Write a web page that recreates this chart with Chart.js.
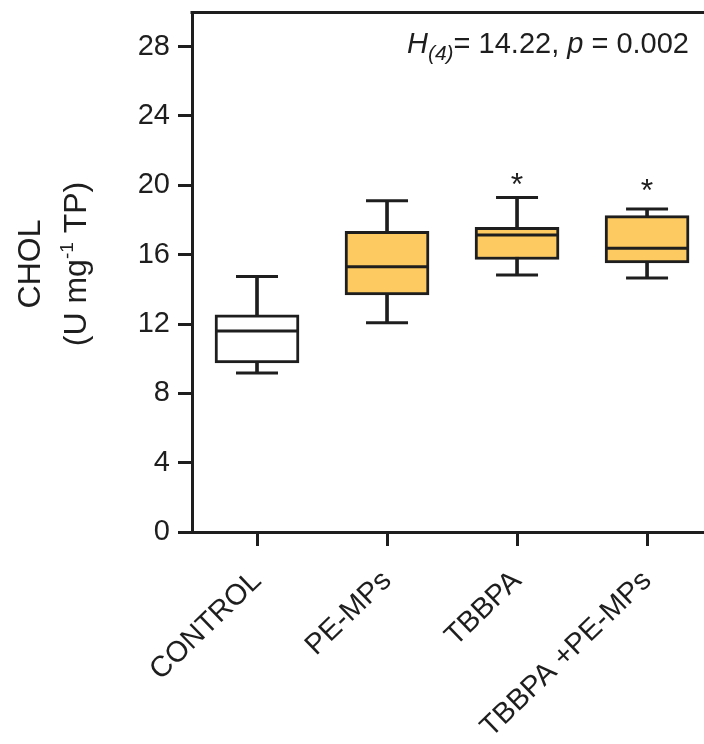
<!DOCTYPE html>
<html><head><meta charset="utf-8">
<script src="https://cdn.jsdelivr.net/npm/chart.js@4"></script>
<style>html,body{margin:0;padding:0;background:#fff;overflow:hidden}#wrap{width:704px;height:744px;position:relative}canvas{display:block}</style>
</head><body><div id="wrap"><canvas id="c" width="704" height="744" style="width:704px;height:744px"></canvas></div>
<script>
// ---- data ----
const categories = ['CONTROL', 'PE-MPs', 'TBBPA', 'TBBPA +PE-MPs'];
const whiskerLow  = [9.17, 12.07, 14.83, 14.66];
const q1          = [9.75, 13.68, 15.72, 15.53];
const medians     = [11.59, 15.31, 17.14, 16.37];
const q3          = [12.53, 17.35, 17.58, 18.25];
const whiskerHigh = [14.74, 19.11, 19.30, 18.63];
const sigMarks    = ['', '', '*', '*'];
const sigY        = [null, null, 20.48, 20.15];
const yTicks      = [0, 4, 8, 12, 16, 20, 24, 28];
const yTitleLine1 = 'CHOL';
const yTitleLine2 = ['(U mg', '-1', ' TP)'];
const statText    = {H: 'H', df: '(4)', Hval: '= 14.22, ', p: 'p', pval: ' = 0.002'};

// ---- styles ----
const INK = '#1e1e1e';
const FONT = "'Liberation Sans', Arial, sans-serif";
const boxFill = ['#ffffff', '#fcca60', '#fcca60', '#fcca60'];

const idx = categories.map((_, i) => i);

function measureParts(ctx, parts) {
  let total = 0;
  parts.forEach(p => { ctx.font = p.f; p.w = ctx.measureText(p.t).width; total += p.w; });
  return total;
}

const overlay = {
  id: 'overlay',
  afterDatasetsDraw(chart) {
    const {ctx, chartArea, scales: {x, y}} = chart;
    ctx.save();
    // top frame line
    ctx.strokeStyle = INK; ctx.lineWidth = 3;
    ctx.beginPath();
    ctx.moveTo(chartArea.left - 1.5, chartArea.top + 0.5);
    ctx.lineTo(chartArea.right + 2, chartArea.top + 0.5);
    ctx.stroke();
    // significance marks
    ctx.fillStyle = INK;
    ctx.font = '32px ' + FONT;
    ctx.textAlign = 'center';
    ctx.textBaseline = 'alphabetic';
    idx.forEach(i => {
      if (!sigMarks[i]) return;
      ctx.fillText(sigMarks[i], x.getPixelForValue(i), y.getPixelForValue(sigY[i]) + 18);
    });
    // statistic annotation
    const parts = [
      {t: statText.H, f: 'italic 29px ' + FONT, dy: 0},
      {t: statText.df, f: 'italic 21px ' + FONT, dy: 7},
      {t: statText.Hval, f: '29px ' + FONT, dy: 0},
      {t: statText.p, f: 'italic 29px ' + FONT, dy: 0},
      {t: statText.pval, f: '29px ' + FONT, dy: 0}
    ];
    const total = measureParts(ctx, parts);
    let cx = 689 - total;
    ctx.textAlign = 'left';
    parts.forEach(p => { ctx.font = p.f; ctx.fillText(p.t, cx, 53 + p.dy); cx += p.w; });
    // y-axis title (rotated, two lines)
    const midY = 264;
    ctx.save();
    ctx.translate(40, midY);
    ctx.rotate(-Math.PI / 2);
    ctx.font = '32px ' + FONT;
    ctx.textAlign = 'center';
    ctx.fillText(yTitleLine1, 0, 0);
    ctx.restore();
    const l2 = [
      {t: yTitleLine2[0], f: '32px ' + FONT, dy: 0},
      {t: yTitleLine2[1], f: '19px ' + FONT, dy: -13},
      {t: yTitleLine2[2], f: '32px ' + FONT, dy: 0}
    ];
    const w2 = measureParts(ctx, l2);
    ctx.save();
    ctx.translate(86, midY);
    ctx.rotate(-Math.PI / 2);
    ctx.textAlign = 'left';
    let px = -w2 / 2;
    l2.forEach(p => { ctx.font = p.f; ctx.fillText(p.t, px, p.dy); px += p.w; });
    ctx.restore();
    ctx.restore();
  }
};

new Chart(document.getElementById('c'), {
  type: 'bar',
  data: {
    datasets: [
      {
        label: 'whisker', order: 4, grouped: false,
        data: idx.map(i => ({x: i, y: [whiskerLow[i], whiskerHigh[i]]})),
        backgroundColor: INK, borderWidth: 0, barThickness: 3
      },
      {
        label: 'box', order: 3, grouped: false,
        data: idx.map(i => ({x: i, y: [q1[i], q3[i]]})),
        backgroundColor: boxFill, borderColor: INK, borderWidth: 3,
        borderSkipped: false, barThickness: 84
      },
      {
        type: 'line', label: 'caps', order: 2, showLine: false,
        data: idx.map(i => ({x: i, y: whiskerHigh[i]})).concat(idx.map(i => ({x: i, y: whiskerLow[i]}))),
        pointStyle: 'line', pointRadius: 21, pointBorderWidth: 3, pointBorderColor: INK
      },
      {
        type: 'line', label: 'median', order: 1, showLine: false,
        data: idx.map(i => ({x: i, y: medians[i]})),
        pointStyle: 'line', pointRadius: 41, pointBorderWidth: 3, pointBorderColor: INK
      }
    ]
  },
  options: {
    responsive: false, animation: false, events: [],
    devicePixelRatio: 1,
    layout: {autoPadding: false, padding: {top: 12, left: 0, right: 0, bottom: 0}},
    plugins: {legend: {display: false}, tooltip: {enabled: false}},
    scales: {
      x: {
        type: 'linear', min: -0.5, max: 3.438, offset: false,
        afterBuildTicks: s => { s.ticks = idx.map(v => ({value: v})); },
        afterFit: s => { s.height = 212; s.paddingLeft = 0; s.paddingRight = 0; },
        ticks: {
          callback: v => categories[v] ?? '', autoSkip: false,
          maxRotation: 44, minRotation: 44, color: INK,
          font: {family: FONT, size: 29}, padding: 18
        },
        grid: {offset: false, drawOnChartArea: false, tickLength: 14, tickWidth: 3, tickColor: INK},
        border: {color: INK, width: 3}
      },
      y: {
        min: 0, max: 30,
        afterBuildTicks: s => { s.ticks = yTicks.map(v => ({value: v})); },
        afterFit: s => { s.width = 192; s.paddingTop = 0; s.paddingBottom = 0; },
        ticks: {color: INK, font: {family: FONT, size: 29}, padding: 8},
        grid: {drawOnChartArea: false, tickLength: 14, tickWidth: 3, tickColor: INK},
        border: {color: INK, width: 3}
      }
    }
  },
  plugins: [overlay]
});
</script>
</body></html>
